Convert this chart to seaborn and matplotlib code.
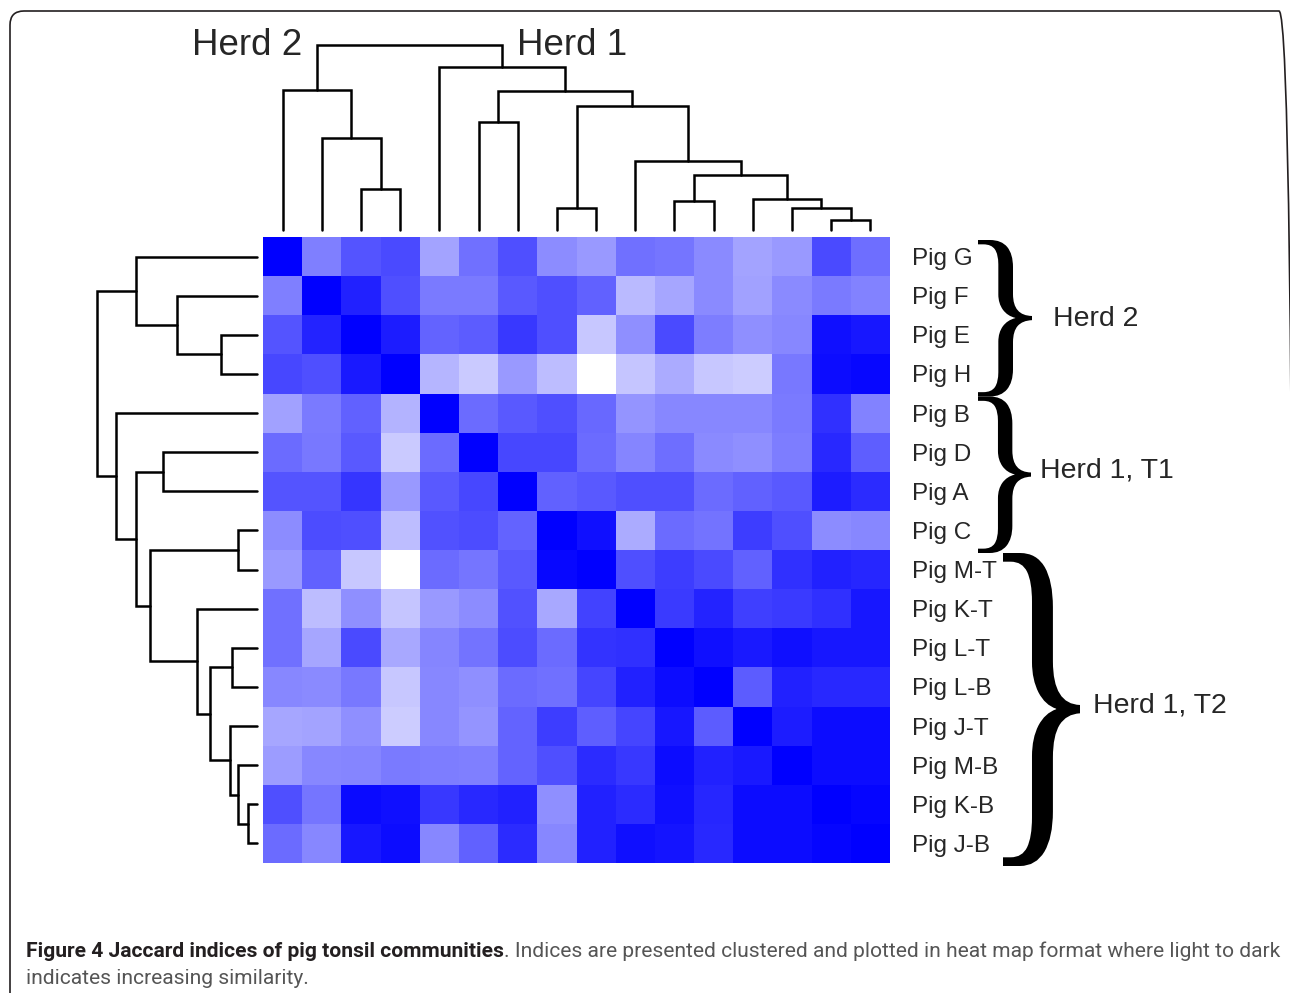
import numpy as np
import pandas as pd
import matplotlib
matplotlib.use("Agg")
import matplotlib.pyplot as plt
import seaborn as sns
from matplotlib.colors import LinearSegmentedColormap
from matplotlib.patches import FancyBboxPatch, PathPatch
from matplotlib.textpath import TextPath
from matplotlib.font_manager import FontProperties
from matplotlib.transforms import Affine2D, IdentityTransform

sns.set_style("white")
plt.rcParams["font.family"] = ["Liberation Sans", "DejaVu Sans"]

# ---------------------------------------------------------------
# data (clustered order)
# ---------------------------------------------------------------
pigs = ["Pig G", "Pig F", "Pig E", "Pig H", "Pig B", "Pig D", "Pig A", "Pig C",
        "Pig M-T", "Pig K-T", "Pig L-T", "Pig L-B", "Pig J-T", "Pig M-B",
        "Pig K-B", "Pig J-B"]

jaccard = [
    [1.00, 0.50, 0.67, 0.71, 0.36, 0.56, 0.69, 0.45, 0.40, 0.56, 0.54, 0.46, 0.36, 0.40, 0.71, 0.57],
    [0.50, 1.00, 0.87, 0.69, 0.52, 0.52, 0.65, 0.69, 0.62, 0.27, 0.35, 0.46, 0.37, 0.46, 0.52, 0.49],
    [0.67, 0.86, 1.00, 0.89, 0.61, 0.64, 0.78, 0.69, 0.22, 0.44, 0.71, 0.51, 0.44, 0.47, 0.94, 0.91],
    [0.72, 0.69, 0.90, 1.00, 0.29, 0.21, 0.40, 0.26, 0.00, 0.23, 0.33, 0.22, 0.20, 0.53, 0.95, 0.97],
    [0.37, 0.52, 0.62, 0.30, 1.00, 0.58, 0.65, 0.69, 0.59, 0.42, 0.47, 0.47, 0.47, 0.52, 0.81, 0.49],
    [0.58, 0.53, 0.65, 0.21, 0.58, 1.00, 0.72, 0.72, 0.58, 0.48, 0.57, 0.46, 0.44, 0.51, 0.84, 0.63],
    [0.67, 0.67, 0.79, 0.40, 0.65, 0.72, 1.00, 0.62, 0.65, 0.69, 0.69, 0.58, 0.62, 0.65, 0.89, 0.83],
    [0.45, 0.70, 0.69, 0.26, 0.68, 0.70, 0.61, 1.00, 0.94, 0.33, 0.58, 0.55, 0.76, 0.69, 0.45, 0.47],
    [0.40, 0.62, 0.22, 0.00, 0.58, 0.54, 0.65, 0.97, 1.00, 0.69, 0.76, 0.71, 0.62, 0.81, 0.87, 0.85],
    [0.56, 0.26, 0.44, 0.23, 0.40, 0.45, 0.68, 0.34, 0.74, 1.00, 0.77, 0.86, 0.75, 0.77, 0.81, 0.91],
    [0.56, 0.35, 0.71, 0.34, 0.48, 0.55, 0.70, 0.58, 0.80, 0.81, 1.00, 0.94, 0.90, 0.94, 0.91, 0.91],
    [0.47, 0.46, 0.53, 0.22, 0.47, 0.44, 0.58, 0.56, 0.73, 0.87, 0.95, 1.00, 0.64, 0.87, 0.84, 0.84],
    [0.35, 0.36, 0.44, 0.20, 0.47, 0.42, 0.61, 0.76, 0.63, 0.73, 0.91, 0.64, 1.00, 0.89, 0.95, 0.95],
    [0.39, 0.47, 0.48, 0.52, 0.51, 0.50, 0.61, 0.69, 0.83, 0.78, 0.95, 0.87, 0.90, 1.00, 0.95, 0.95],
    [0.69, 0.54, 0.96, 0.94, 0.78, 0.84, 0.87, 0.44, 0.87, 0.83, 0.94, 0.85, 0.95, 0.95, 1.00, 0.98],
    [0.58, 0.47, 0.91, 0.95, 0.47, 0.62, 0.83, 0.47, 0.87, 0.94, 0.92, 0.84, 0.95, 0.95, 0.98, 1.00],
]

# linkage in scipy style: (cluster a, cluster b, height); new ids start at 16
merges = [
    (14, 15, 0.056), (13, 16, 0.118), (7, 8, 0.121), (10, 11, 0.155),
    (12, 17, 0.168), (2, 3, 0.223), (19, 20, 0.296), (9, 22, 0.373),
    (1, 21, 0.497), (5, 6, 0.585), (18, 23, 0.670), (25, 26, 0.753),
    (0, 24, 0.757), (4, 27, 0.881), (28, 29, 1.000),
]

top_groups = [("Herd 2", 247), ("Herd 1", 572)]
herd_groups = [("Herd 2", 0, 4), ("Herd 1, T1", 4, 8), ("Herd 1, T2", 8, 16)]

# ---------------------------------------------------------------
# layout helpers (pixels, y measured from top)
# ---------------------------------------------------------------
W, H = 1290, 993
HM_L, HM_R, HM_T, HM_B = 263, 890, 237, 863
n = len(pigs)


def fx(px):
    return px / W


def fy(py):
    return 1 - py / H


def row_px(r):
    return HM_T + r * (HM_B - HM_T) / n


def dendro_segments(links, n_leaves):
    pos = {i: i + 0.5 for i in range(n_leaves)}
    hgt = {i: 0.0 for i in range(n_leaves)}
    segs = []
    for k, (a, b, h) in enumerate(links):
        segs.append(([pos[a], pos[a], pos[b], pos[b]], [hgt[a], h, h, hgt[b]]))
        pos[n_leaves + k] = (pos[a] + pos[b]) / 2
        hgt[n_leaves + k] = h
    return segs


fig = plt.figure(figsize=(W / 100, H / 100), dpi=100)

# heat map
df = pd.DataFrame(jaccard, index=pigs, columns=pigs)
cmap = LinearSegmentedColormap.from_list("wb", ["#ffffff", "#0000ff"])
ax = fig.add_axes([fx(HM_L), fy(HM_B), fx(HM_R - HM_L), (HM_B - HM_T) / H])
sns.heatmap(df, ax=ax, cmap=cmap, vmin=0, vmax=1, cbar=False,
            xticklabels=False, yticklabels=True, linewidths=0)
ax.yaxis.tick_right()
ax.tick_params(axis="y", length=0, pad=16, labelsize=17.5)
plt.setp(ax.get_yticklabels(), rotation=0, ha="left", va="center_baseline")
ax.set_xlabel("")
ax.set_ylabel("")

segs = dendro_segments(merges, n)

# top dendrogram
ax_top = fig.add_axes([fx(HM_L), fy(230), fx(HM_R - HM_L), (230 - 45) / H])
for xs, ys in segs:
    ax_top.plot(xs, ys, color="black", lw=1.8, clip_on=False,
                solid_joinstyle="miter")
ax_top.set_xlim(0, n)
ax_top.set_ylim(0, 1.0)
ax_top.axis("off")

# left dendrogram
ax_left = fig.add_axes([fx(96.7), fy(HM_B), fx(257 - 96.7), (HM_B - HM_T) / H])
for xs, ys in segs:
    ax_left.plot(ys, xs, color="black", lw=1.8, clip_on=False,
                 solid_joinstyle="miter")
ax_left.set_xlim(1.0, 0)
ax_left.set_ylim(n, 0)
ax_left.axis("off")

for label, xc in top_groups:
    fig.text(fx(xc), fy(55), label, ha="center", va="baseline", fontsize=26.5)


# curly braces from a serif glyph, stretched to the group
def brace(x_left, x_tip, y_top, y_bot):
    tp = TextPath((0, 0), "}", size=100, prop=FontProperties(family="Liberation Serif"))
    ext = tp.get_extents()
    tr = (Affine2D().translate(-ext.x0, -ext.y0)
          .scale((x_tip - x_left) / ext.width, (y_bot - y_top) / ext.height)
          .translate(x_left, H - y_bot))
    fig.add_artist(PathPatch(tr.transform_path(tp), transform=IdentityTransform(),
                             fc="black", lw=0))


# brace left, brace tip, label left, label baseline shift
brace_x = {"Herd 2": (978, 1032, 1053, 8), "Herd 1, T1": (978, 1031, 1040, 3),
           "Herd 1, T2": (1003, 1080, 1093, 3)}
for label, r0, r1 in herd_groups:
    xl, xt, xtext, dy = brace_x[label]
    y0, y1 = row_px(r0) + 3, row_px(r1) + 3
    brace(xl, xt, y0, y1)
    ymid = (y0 + y1) / 2
    fig.text(fx(xtext), fy(ymid + dy), label, ha="left", va="baseline", fontsize=20.5)

# caption, sized so the first line spans the frame like the original
cap_font = ["Roboto", "DejaVu Sans"]
t1 = fig.text(fx(26), fy(957), "Figure 4 Jaccard indices of pig tonsil communities",
              fontsize=13, fontweight="bold", color="#231f20", family=cap_font,
              ha="left", va="baseline")
t2 = ax.annotate(". Indices are presented clustered and plotted in heat map format where light to dark",
                 xy=(1, 0), xycoords=t1, ha="left", va="bottom", fontsize=13,
                 color="#555555", family=cap_font, annotation_clip=False)
t3 = fig.text(fx(26), fy(984), "indicates increasing similarity.", fontsize=13,
              color="#555555", family=cap_font, ha="left", va="baseline")
fig.canvas.draw()
r = fig.canvas.get_renderer()
span = t2.get_window_extent(r).x1 - t1.get_window_extent(r).x0
scale = (1278 - 26) / span
for t in (t1, t2, t3):
    t.set_fontsize(13 * scale)

# rounded frame, right side runs just past the image edge
fig.add_artist(FancyBboxPatch((0.10, -0.4), 12.83, 9.82 + 0.4,
                              boxstyle="round,pad=0,rounding_size=0.14",
                              transform=fig.dpi_scale_trans, fill=False,
                              ec="#231f20", lw=1.2))

fig.savefig("out.png", dpi=100)
